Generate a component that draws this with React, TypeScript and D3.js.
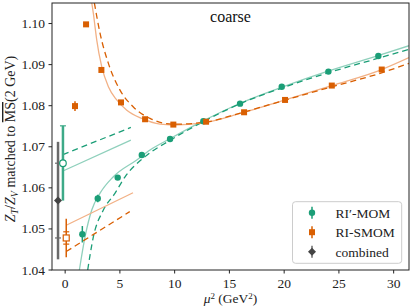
import * as d3 from 'd3';

// RI'-MOM data points
const momX = [1.57, 2.98, 4.8, 7.0, 9.58, 12.62, 15.97, 19.78, 24.04, 28.6];
const momY = [1.0487, 1.0574, 1.0625, 1.068, 1.0719, 1.0762, 1.0805, 1.0846, 1.0883, 1.0921];
const momErr = [0.002, 0.0009, 0.0005, 0.0004, 0.0003, 0.0003, 0.0003, 0.0003, 0.0003, 0.0003];

// RI-SMOM data points
const smomX = [0.9, 1.91, 3.31, 5.1, 7.3, 9.88, 12.87, 16.34, 20.08, 24.35, 28.91];
const smomY = [1.0799, 1.0998, 1.0887, 1.0808, 1.0767, 1.0754, 1.0761, 1.0784, 1.0814, 1.0849, 1.0888];
const smomErr = [0.0012, 0.0004, 0.0003, 0.0003, 0.0002, 0.0002, 0.0002, 0.0002, 0.0002, 0.0002, 0.0002];

// extrapolated values at mu^2 -> 0 (x offset for readability)
const momExtrap = { x: -0.2, y: 1.066, stat: 0.0091 };
const smomExtrap = { x: 0.1, y: 1.0478, stat: 0.0015, tot: 0.0047 };
const combined = { x: -0.65, y: 1.0569, stat: 0.0091, tot: 0.0143 };

// fit curves
const momFitX = [1.3, 1.82, 2.43, 3.19, 4.4, 6.54, 7.75, 9.6, 12.6, 16, 20, 24, 28, 31.4];
const momFitY = [1.04, 1.0481, 1.0546, 1.0587, 1.0627, 1.0668, 1.0692, 1.072, 1.0763, 1.0806, 1.0847, 1.0884, 1.0917, 1.0946];
const momFitDashX = [2.06, 2.58, 3.49, 4.56, 5.47, 7.3, 9.6, 12.6, 16, 20, 24, 28, 31.4];
const momFitDashY = [1.04, 1.0481, 1.0546, 1.0587, 1.0627, 1.0676, 1.0716, 1.0761, 1.0805, 1.0845, 1.088, 1.0911, 1.0937];
const smomFitX = [2.43, 2.58, 2.73, 2.89, 3.34, 3.95, 4.71, 5.63, 7.0, 8.67, 9.88, 12.62, 15.97, 20.08, 24.35, 28.91, 31.4];
const smomFitY = [1.105, 1.1024, 1.0992, 1.0959, 1.0895, 1.0846, 1.0814, 1.0789, 1.0769, 1.0755, 1.0753, 1.0758, 1.0781, 1.0814, 1.0849, 1.0888, 1.0917];
const smomFitDashX = [2.67, 3.19, 3.95, 5.01, 6.23, 7.75, 9.88, 12.6, 16, 20, 24.35, 28.9, 31.4];
const smomFitDashY = [1.105, 1.0976, 1.0903, 1.0838, 1.0797, 1.0769, 1.0755, 1.0759, 1.0782, 1.0813, 1.0846, 1.088, 1.0903];

// linear parts of the fits near mu^2 = 0
const momLineX = [-0.2, 6.0];
const momLineY = [1.0641, 1.0716];
const momLineDashY = [1.0681, 1.0747];
const smomLineX = [0.1, 6.2];
const smomLineY = [1.0509, 1.0588];
const smomLineDashX = [0.1, 5.9];
const smomLineDashY = [1.0445, 1.0542];

const xTicks = [0, 5, 10, 15, 20, 25, 30];
const yTicks = [1.04, 1.05, 1.06, 1.07, 1.08, 1.09, 1.1];
const legendLabels = ['RI\u2032-MOM', 'RI-SMOM', 'combined'];

const GREEN = '#1b9e77';
const ORANGE = '#d95f02';
const LGREEN = '#8fd0bc';
const LORANGE = '#f2b186';
const FONT = "'Liberation Serif', 'Times New Roman', Times, serif";

const W = 411;
const H = 308;
const left = 52, right = 409, top = 3, bottom = 270;

export default function App() {
  const x = d3.scaleLinear().domain([-1.2, 31.4]).range([left, right]);
  const y = d3.scaleLinear().domain([1.04, 1.105]).range([bottom, top]);

  const line = (xs: number[], ys: number[]) =>
    d3.line<number>().x((d) => x(xs[d])).y((d) => y(ys[d])).curve(d3.curveMonotoneX)(xs.map((_, i) => i)) || '';

  const diamond = (cx: number, cy: number, r: number) =>
    `M${cx},${cy - r}L${cx + r},${cy}L${cx},${cy + r}L${cx - r},${cy}Z`;

  return (
    <svg width={W} height={H} style={{ position: 'absolute', left: 0, top: 0, fontFamily: FONT }}>
      <defs>
        <clipPath id="plot">
          <rect x={left} y={top} width={right - left} height={bottom - top} />
        </clipPath>
      </defs>
      <rect width={W} height={H} fill="white" />

      <g clipPath="url(#plot)" fill="none">
        {/* fit curves */}
        <path d={line(momFitX, momFitY)} stroke={LGREEN} strokeWidth={1.3} />
        <path d={line(momFitDashX, momFitDashY)} stroke={GREEN} strokeWidth={1.3} strokeDasharray="6,4" />
        <path d={line(smomFitX, smomFitY)} stroke={LORANGE} strokeWidth={1.3} />
        <path d={line(smomFitDashX, smomFitDashY)} stroke={ORANGE} strokeWidth={1.3} strokeDasharray="6,4" />
        {/* linear parts */}
        <path d={line(momLineX, momLineY)} stroke={LGREEN} strokeWidth={1.3} />
        <path d={line(momLineX, momLineDashY)} stroke={GREEN} strokeWidth={1.3} strokeDasharray="6,4" />
        <path d={line(smomLineX, smomLineY)} stroke={LORANGE} strokeWidth={1.3} />
        <path d={line(smomLineDashX, smomLineDashY)} stroke={ORANGE} strokeWidth={1.3} strokeDasharray="6,4" />

        {/* combined */}
        <line x1={x(combined.x)} x2={x(combined.x)} y1={y(combined.y + combined.tot)} y2={y(combined.y - combined.tot)} stroke="#6a6a6a" strokeWidth={2.5} />
        {[1, -1].map((s) => (
          <line key={s} x1={x(combined.x) - 3} x2={x(combined.x) + 3} y1={y(combined.y + s * combined.stat)} y2={y(combined.y + s * combined.stat)} stroke="#6a6a6a" strokeWidth={1.2} />
        ))}

        {/* RI'-MOM extrapolation */}
        <line x1={x(momExtrap.x)} x2={x(momExtrap.x)} y1={y(momExtrap.y + momExtrap.stat)} y2={y(momExtrap.y - momExtrap.stat)} stroke="#3daa88" strokeWidth={2.5} />
        <line x1={x(momExtrap.x) - 3} x2={x(momExtrap.x) + 3} y1={y(momExtrap.y + momExtrap.stat)} y2={y(momExtrap.y + momExtrap.stat)} stroke="#3daa88" strokeWidth={1.2} />
        <circle cx={x(momExtrap.x)} cy={y(momExtrap.y)} r={3.3} fill="white" stroke={GREEN} strokeWidth={1.2} />

        <path d={diamond(x(combined.x), y(combined.y), 4)} fill="#444" />

        {/* RI-SMOM extrapolation */}
        <line x1={x(smomExtrap.x)} x2={x(smomExtrap.x)} y1={y(smomExtrap.y + smomExtrap.tot)} y2={y(smomExtrap.y - smomExtrap.tot)} stroke={ORANGE} strokeWidth={1.5} />
        {[1, -1].map((s) => (
          <line key={s} x1={x(smomExtrap.x) - 3} x2={x(smomExtrap.x) + 3} y1={y(smomExtrap.y + s * smomExtrap.stat)} y2={y(smomExtrap.y + s * smomExtrap.stat)} stroke={ORANGE} strokeWidth={1.2} />
        ))}
        <rect x={x(smomExtrap.x) - 3} y={y(smomExtrap.y) - 3} width={6} height={6} fill="white" stroke={ORANGE} strokeWidth={1.2} />

        {/* data points */}
        {momX.map((v, i) => (
          <g key={'m' + i}>
            <line x1={x(v)} x2={x(v)} y1={y(momY[i] + momErr[i])} y2={y(momY[i] - momErr[i])} stroke={GREEN} strokeWidth={1.5} />
            <circle cx={x(v)} cy={y(momY[i])} r={3.2} fill={GREEN} />
          </g>
        ))}
        {smomX.map((v, i) => (
          <g key={'s' + i}>
            <line x1={x(v)} x2={x(v)} y1={y(smomY[i] + smomErr[i])} y2={y(smomY[i] - smomErr[i])} stroke={ORANGE} strokeWidth={1.5} />
            <rect x={x(v) - 3} y={y(smomY[i]) - 3} width={6} height={6} fill={ORANGE} />
          </g>
        ))}
      </g>

      {/* frame */}
      <rect x={left} y={top} width={right - left} height={bottom - top} fill="none" stroke="#222" strokeWidth={1} />

      {/* x axis */}
      {xTicks.map((t) => (
        <g key={t}>
          <line x1={x(t)} x2={x(t)} y1={bottom} y2={bottom + 3.5} stroke="#222" />
          <text x={x(t)} y={287.5} textAnchor="middle" fontSize={13.5} fill="#222">{t}</text>
        </g>
      ))}
      <text x={(left + right) / 2} y={302.5} textAnchor="middle" fontSize={13.5} fill="#222">
        <tspan fontStyle="italic">{'\u03bc'}</tspan>
        <tspan dy={-4} fontSize={9}>2</tspan>
        <tspan dy={4}> (GeV</tspan>
        <tspan dy={-4} fontSize={9}>2</tspan>
        <tspan dy={4}>)</tspan>
      </text>

      {/* y axis */}
      {yTicks.map((t) => (
        <g key={t}>
          <line x1={left - 3.5} x2={left} y1={y(t)} y2={y(t)} stroke="#222" />
          <text x={45} y={y(t) + 4.5} textAnchor="end" fontSize={13.5} fill="#222">{d3.format('.2f')(t)}</text>
        </g>
      ))}
      <text transform={`translate(15,139) rotate(-90)`} textAnchor="middle" fontSize={14} fill="#222">
        <tspan fontStyle="italic">Z</tspan>
        <tspan dy={3} fontSize={10} fontStyle="italic">T</tspan>
        <tspan dy={-3}>/</tspan>
        <tspan fontStyle="italic">Z</tspan>
        <tspan dy={3} fontSize={10} fontStyle="italic">V</tspan>
        <tspan dy={-3}> matched to </tspan>
        <tspan style={{ textDecoration: 'overline' }}>MS</tspan>
        <tspan>(2 GeV)</tspan>
      </text>

      {/* title */}
      <text x={(left + right) / 2} y={21.5} textAnchor="middle" fontSize={16} fill="#111">coarse</text>

      {/* legend */}
      <rect x={292.5} y={201.7} width={109.2} height={61.6} rx={3} fill="white" fillOpacity={0.8} stroke="#ccc" />
      {legendLabels.map((lab, i) => {
        const cy = 212.7 + i * 19.5;
        const col = [GREEN, ORANGE, '#444'][i];
        return (
          <g key={lab}>
            <line x1={312} x2={312} y1={cy - 6} y2={cy + 6} stroke={i === 2 ? '#6a6a6a' : col} strokeWidth={1.5} />
            {i === 0 && <circle cx={312} cy={cy} r={3.2} fill={col} />}
            {i === 1 && <rect x={309} y={cy - 3} width={6} height={6} fill={col} />}
            {i === 2 && <path d={diamond(312, cy, 4)} fill={col} />}
            <text x={335.5} y={cy + 5} fontSize={13.5} fill="#222">{lab}</text>
          </g>
        );
      })}
    </svg>
  );
}
